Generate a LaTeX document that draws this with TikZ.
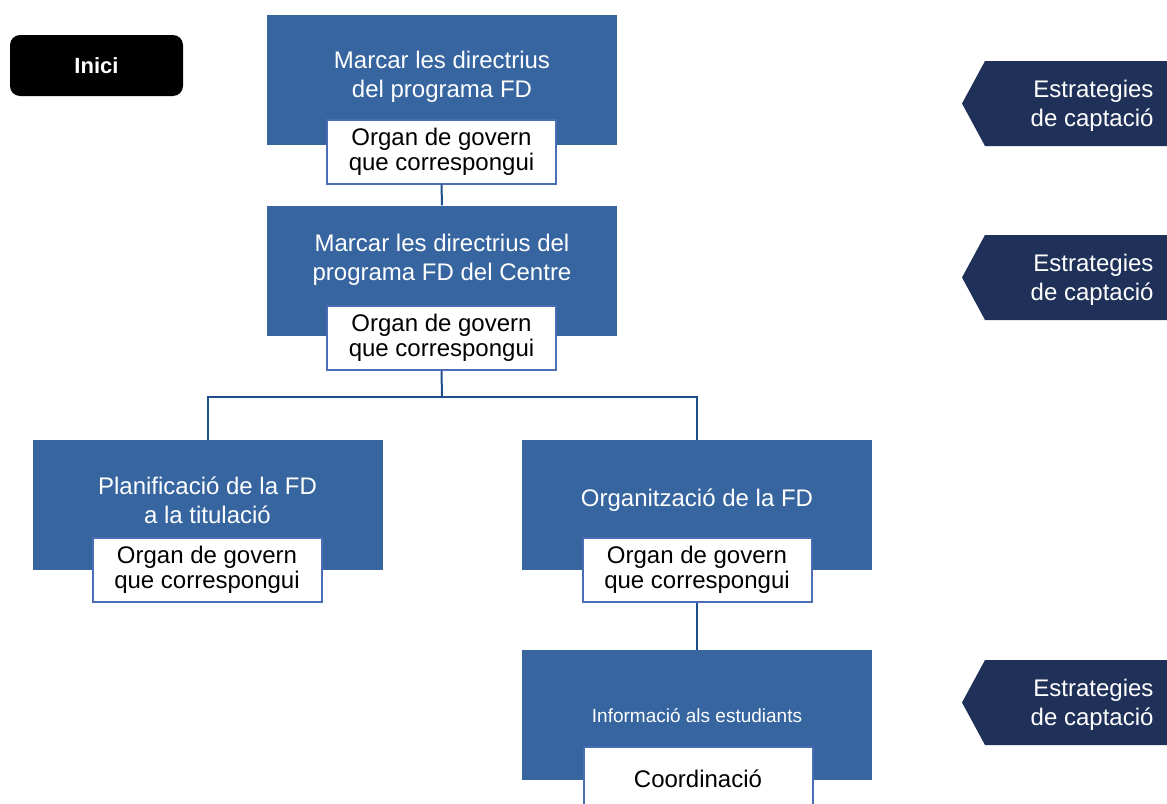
\documentclass[tikz,border=0pt]{standalone}
\usepackage{fontspec}
\setmainfont{Liberation Sans}

\definecolor{boxblue}{HTML}{3765A0}
\definecolor{tagnavy}{HTML}{1F3158}
\definecolor{linkblue}{HTML}{1F4E8C}
\definecolor{edgeblue}{HTML}{4A6DB5}

\tikzset{
  stepbox/.style={fill=boxblue, minimum width=350pt, minimum height=130pt, inner sep=0pt},
  steptext/.style={text=white, align=center, font=\fontsize{24}{29}\selectfont},
  ownerbox/.style={fill=white, draw=edgeblue, line width=2pt, minimum width=229pt,
    minimum height=64pt, inner sep=0pt, align=center, font=\fontsize{24}{25}\selectfont},
  tagtext/.style={text=white, align=right, font=\fontsize{24}{29}\selectfont},
  link/.style={draw=linkblue, line width=2pt},
}

\begin{document}
\begin{tikzpicture}[x=1pt, y=-1pt]
\clip (0,0) rectangle (1167,803);

% inici
\node[fill=black, rounded corners=10pt, minimum width=173pt, minimum height=61pt,
  text=white, font=\fontsize{22}{26}\selectfont\bfseries] (inici) at (96.5,65.5) {Inici};

% directrius
\node[stepbox] (b1) at (442,80) {};
\node[steptext] (t1) at (442,77) {Marcar les directrius\\del programa FD};
\node[ownerbox] (own1) at (441.5,151.5) {Organ de govern\\que correspongui};

\node[stepbox] (b2) at (442,270.5) {};
\node[steptext] (t2) at (442,260) {Marcar les directrius del\\programa FD del Centre};
\node[ownerbox] (own2) at (441.5,338) {Organ de govern\\que correspongui};

% planificacio i organitzacio
\node[stepbox] (b3) at (207.5,505) {};
\node[steptext] (t3) at (207.5,500) {Planificació de la FD\\a la titulació};
\node[ownerbox] (own3) at (207,570) {Organ de govern\\que correspongui};

\node[stepbox] (b4) at (697,505) {};
\node[steptext] (t4) at (697,500) {Organització de la FD};
\node[ownerbox] (own4) at (697,570) {Organ de govern\\que correspongui};

% informacio
\node[stepbox] (b5) at (697,715) {};
\node[text=white, font=\fontsize{19}{23}\selectfont] (t5) at (697,716) {Informació als estudiants};
\node[ownerbox] (own5) at (698,778.5) {Coordinació};

% connectors
\draw[link] (own1.south) -- (b2.north);
\coordinate (split) at (442,397);
\draw[link] (own2.south) -- (split);
\draw[link] (split) -| (b3.north);
\draw[link] (split) -| (b4.north);
\draw[link] (own4.south) -- (b5.north);

% estrategies
\foreach \y/\n in {103.5/a, 277.5/b, 702.5/c} {
  \fill[tagnavy] (1167,\y-42.5) -- (985,\y-42.5) -- (962,\y) -- (985,\y+42.5) -- (1167,\y+42.5) -- cycle;
  \node[tagtext, anchor=east] (tag\n) at (1157,\y+2.5) {Estrategies\\de captació};
}

\end{tikzpicture}
\end{document}
